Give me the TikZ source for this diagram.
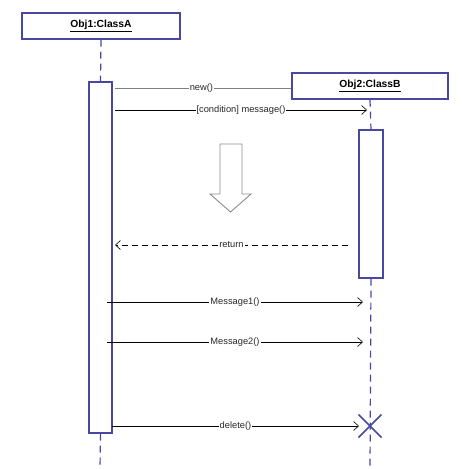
\documentclass[tikz,border=0pt]{standalone}
\usepackage{fontspec}
\setmainfont{Liberation Sans}
\usetikzlibrary{arrows.meta}
\definecolor{uml}{RGB}{72,72,160}
\definecolor{msgtext}{RGB}{40,40,40}
\begin{document}
\begin{tikzpicture}[x=1pt,y=-1pt,
  objbox/.style={draw=uml, line width=1.2pt, fill=white, minimum width=158pt, minimum height=26pt, inner sep=0pt, font=\fontsize{10.3}{12}\selectfont\bfseries},
  actbox/.style={draw=uml, line width=1.1pt, fill=white, inner sep=0pt},
  lifeline/.style={draw=uml, line width=1.2pt, dash pattern=on 7pt off 5pt},
  msg/.style={draw=black, line width=0.6pt, -{Straight Barb[length=5pt,width=9pt,line width=0.6pt]}},
  msglabel/.style={fill=white, inner sep=1pt, text=msgtext, font=\fontsize{9.3}{11}\selectfont},
  hollowarrow/.style={draw=gray!90, line width=0.9pt, fill=white}]
\useasboundingbox (0,0) rectangle (461,469);

% objects
\node[objbox] (obj1) at (101,26) {\underline{Obj1:ClassA}};
\node[objbox, minimum width=156pt] (obj2) at (370,86) {\underline{Obj2:ClassB}};

% activation bars
\node[actbox, minimum width=23pt, minimum height=351pt] (act1) at (100.5,257.5) {};
\node[actbox, minimum width=24pt, minimum height=148pt] (act2) at (371,204) {};

% lifelines
\coordinate (end1) at (100,469);
\coordinate (end2) at (370,469);
\coordinate (kill) at (370,426);
\draw[lifeline] (obj1.south) -- (act1.north);
\draw[lifeline] (act1.south) -- (end1);
\draw[lifeline] (obj2.south) -- (act2.north);
\draw[lifeline] (act2.south) -- (end2);

% message end points
\coordinate (newS) at (115,88);
\coordinate (condS) at (115,110);
\coordinate (condE) at (367,110);
\coordinate (retS) at (348,245);
\coordinate (retE) at (115,245);
\coordinate (m1S) at (107,302);
\coordinate (m1E) at (363,302);
\coordinate (m2S) at (107,342);
\coordinate (m2E) at (363,342);
\coordinate (delS) at (112,426);
\coordinate (delE) at (359,426);

% messages
\draw[draw=gray, line width=1pt] (newS) -- node[msglabel, pos=0.49] {new()} (newS -| obj2.west);
\draw[msg] (condS) -- node[msglabel, pos=0.5] {[condition] message()} (condE);
\draw[msg, dash pattern=on 6pt off 4pt] (retS) -- node[msglabel, pos=0.5] {return} (retE);
\draw[msg] (m1S) -- node[msglabel, pos=0.5] {Message1()} (m1E);
\draw[msg] (m2S) -- node[msglabel, pos=0.5] {Message2()} (m2E);
\draw[msg] (delS) -- node[msglabel, pos=0.5] {delete()} (delE);

% destruction mark
\draw[uml, line width=1.5pt] ([shift={(-11.5,-11.5)}]kill) -- ([shift={(11.5,11.5)}]kill)
  ([shift={(-11.5,11.5)}]kill) -- ([shift={(11.5,-11.5)}]kill);

% time-flow arrow
\draw[hollowarrow] (220,144) -- (242,144) -- (242,194) -- (251,194) -- (230.5,212)
  -- (210,194) -- (220,194) -- cycle;
\end{tikzpicture}
\end{document}
